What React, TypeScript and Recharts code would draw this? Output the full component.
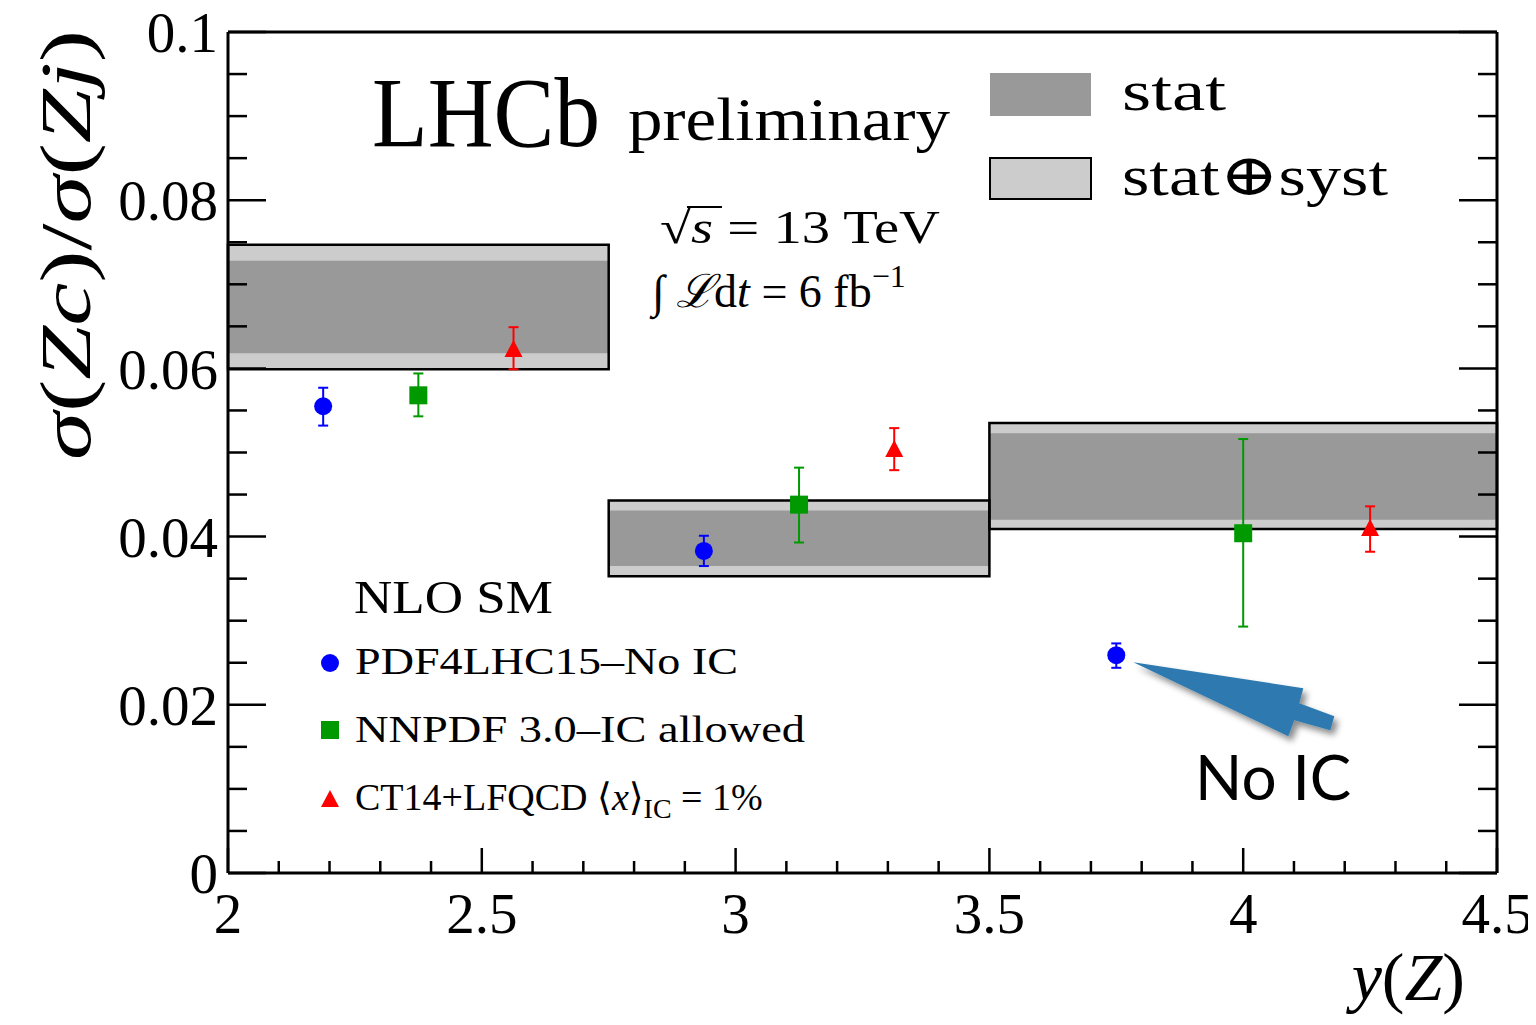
import { ComposedChart, XAxis, YAxis, Scatter, ErrorBar, ReferenceArea, ReferenceDot } from "recharts";

// measured bins (stat and stat+syst bands)
const binLo = [2.0, 2.75, 3.5];
const binHi = [2.75, 3.5, 4.5];
const systLo = [0.0599, 0.0353, 0.0409];
const systHi = [0.0747, 0.0443, 0.0535];
const statLo = [0.0618, 0.0365, 0.042];
const statHi = [0.0728, 0.0431, 0.0523];

// NLO SM predictions
const pdf4lhcX = [2.1875, 2.9375, 3.75];
const pdf4lhcY = [0.0555, 0.0383, 0.0259];
const pdf4lhcLo = [0.0532, 0.0365, 0.0244];
const pdf4lhcHi = [0.0577, 0.0401, 0.0273];

const nnpdfX = [2.375, 3.125, 4.0];
const nnpdfY = [0.0568, 0.0438, 0.0404];
const nnpdfLo = [0.0543, 0.0393, 0.0293];
const nnpdfHi = [0.0594, 0.0482, 0.0516];

const ct14X = [2.5625, 3.3125, 4.25];
const ct14Y = [0.0622, 0.0503, 0.0409];
const ct14Lo = [0.0599, 0.0479, 0.0382];
const ct14Hi = [0.0649, 0.0529, 0.0436];

const xMajor = [2, 2.5, 3, 3.5, 4, 4.5];
const xMinor = [2.1, 2.2, 2.3, 2.4, 2.6, 2.7, 2.8, 2.9, 3.1, 3.2, 3.3, 3.4, 3.6, 3.7, 3.8, 3.9, 4.1, 4.2, 4.3, 4.4];
const yMajor = [0, 0.02, 0.04, 0.06, 0.08, 0.1];
const yMinor = [0.005, 0.01, 0.015, 0.025, 0.03, 0.035, 0.045, 0.05, 0.055, 0.065, 0.07, 0.075, 0.085, 0.09, 0.095];

const xTicks = [...xMajor, ...xMinor];
const yTicks = [...yMajor, ...yMinor];

const BLUE = "#0000ff";
const GREEN = "#009900";
const RED = "#ff0000";
const SERIF = "Liberation Serif, DejaVu Serif, serif";
const FONT_SIZE = 57;

const toPoints = (xs: number[], ys: number[], lo: number[], hi: number[]) =>
	xs.map((x, i) => ({ x, y: ys[i], err: [ys[i] - lo[i], hi[i] - ys[i]] }));

const pdf4lhcData = toPoints(pdf4lhcX, pdf4lhcY, pdf4lhcLo, pdf4lhcHi);
const nnpdfData = toPoints(nnpdfX, nnpdfY, nnpdfLo, nnpdfHi);
const ct14Data = toPoints(ct14X, ct14Y, ct14Lo, ct14Hi);

const CircleMark = (p: any) => <circle cx={p.cx} cy={p.cy} r={9} fill={BLUE} />;
const SquareMark = (p: any) => <rect x={p.cx - 9} y={p.cy - 9} width={18} height={18} fill={GREEN} />;
const TriMark = (p: any) => (
	<polygon points={`${p.cx},${p.cy - 10} ${p.cx + 9},${p.cy + 7} ${p.cx - 9},${p.cy + 7}`} fill={RED} />
);

// arrow pointing at the no-IC prediction
const NoIcArrow = (p: any) => {
	const { cx, cy } = p;
	const pts = [
		[17, 7],
		[187, 33],
		[183, 48],
		[218, 61],
		[214, 75],
		[178, 65],
		[172, 81],
	]
		.map(([dx, dy]) => `${cx + dx},${cy + dy}`)
		.join(" ");
	return <polygon points={pts} fill="#2d7ab0" filter="url(#arrowShadow)" />;
};

// ROOT style ticks: drawn inwards, labels only on the bottom / left majors
const xTick = (side: "bottom" | "top") => (p: any) => {
	const v = p.payload.value;
	const major = xMajor.includes(v);
	const len = major ? 25 : 12;
	const dir = side === "bottom" ? -1 : 1;
	return (
		<g>
			<line x1={p.x} y1={p.y} x2={p.x} y2={p.y + dir * len} stroke="#000" strokeWidth={2.5} />
			{side === "bottom" && major && (
				<text x={p.x} y={p.y + 20} dy="0.71em" textAnchor="middle" fontSize={FONT_SIZE} fontFamily={SERIF} fill="#000">
					{String(v)}
				</text>
			)}
		</g>
	);
};

const yTick = (side: "left" | "right") => (p: any) => {
	const v = p.payload.value;
	const major = yMajor.includes(v);
	const len = major ? 38 : 19;
	const dir = side === "left" ? 1 : -1;
	return (
		<g>
			<line x1={p.x} y1={p.y} x2={p.x + dir * len} y2={p.y} stroke="#000" strokeWidth={2.5} />
			{side === "left" && major && (
				<text x={p.x - 10} y={p.y} dy="0.355em" textAnchor="end" fontSize={FONT_SIZE} fontFamily={SERIF} fill="#000">
					{String(v)}
				</text>
			)}
		</g>
	);
};

const frame = { stroke: "#000", strokeWidth: 3 };

export default function App() {
	return (
		<div style={{ position: "relative", width: 1536, height: 1024, margin: -8, background: "#fff" }}>
			<ComposedChart width={1536} height={1024} margin={{ top: 0, right: 0, bottom: 0, left: 0 }} style={{ overflow: "visible" }}>
				<XAxis xAxisId="b" orientation="bottom" type="number" dataKey="x" domain={[2, 4.5]} allowDataOverflow ticks={xTicks} interval={0} height={151} tickLine={false} tickSize={0} tickMargin={0} axisLine={frame} tick={xTick("bottom")} />
				<XAxis xAxisId="t" orientation="top" type="number" domain={[2, 4.5]} allowDataOverflow ticks={xTicks} interval={0} height={32} tickLine={false} tickSize={0} tickMargin={0} axisLine={frame} tick={xTick("top")} />
				<YAxis yAxisId="l" orientation="left" type="number" dataKey="y" domain={[0, 0.1]} allowDataOverflow ticks={yTicks} interval={0} width={228} tickLine={false} tickSize={0} tickMargin={0} axisLine={frame} tick={yTick("left")} />
				<YAxis yAxisId="r" orientation="right" type="number" domain={[0, 0.1]} allowDataOverflow ticks={yTicks} interval={0} width={39} tickLine={false} tickSize={0} tickMargin={0} axisLine={frame} tick={yTick("right")} />

				{binLo.map((lo, i) => (
					<ReferenceArea key={`syst-${i}`} xAxisId="b" yAxisId="l" x1={lo} x2={binHi[i]} y1={systLo[i]} y2={systHi[i]} fill="#cccccc" fillOpacity={1} stroke="none" />
				))}
				{binLo.map((lo, i) => (
					<ReferenceArea key={`stat-${i}`} xAxisId="b" yAxisId="l" x1={lo} x2={binHi[i]} y1={statLo[i]} y2={statHi[i]} fill="#999999" fillOpacity={1} stroke="none" />
				))}
				{binLo.map((lo, i) => (
					<ReferenceArea key={`box-${i}`} xAxisId="b" yAxisId="l" x1={lo} x2={binHi[i]} y1={systLo[i]} y2={systHi[i]} fill="none" fillOpacity={0} stroke="#000" strokeWidth={2.5} />
				))}

				<Scatter xAxisId="b" yAxisId="l" data={pdf4lhcData} shape={CircleMark} isAnimationActive={false}>
					<ErrorBar dataKey="err" direction="y" width={5} stroke={BLUE} strokeWidth={2} isAnimationActive={false} />
				</Scatter>
				<Scatter xAxisId="b" yAxisId="l" data={nnpdfData} shape={SquareMark} isAnimationActive={false}>
					<ErrorBar dataKey="err" direction="y" width={5} stroke={GREEN} strokeWidth={2} isAnimationActive={false} />
				</Scatter>
				<Scatter xAxisId="b" yAxisId="l" data={ct14Data} shape={TriMark} isAnimationActive={false}>
					<ErrorBar dataKey="err" direction="y" width={5} stroke={RED} strokeWidth={2} isAnimationActive={false} />
				</Scatter>

				<ReferenceDot xAxisId="b" yAxisId="l" x={pdf4lhcX[2]} y={pdf4lhcY[2]} r={0} shape={NoIcArrow} />
			</ComposedChart>

			<svg width={1536} height={1024} style={{ position: "absolute", left: 0, top: 0, pointerEvents: "none" }}>
				<defs>
					<filter id="arrowShadow" x="-20%" y="-50%" width="140%" height="200%">
						<feDropShadow dx="4" dy="5" stdDeviation="3" floodColor="#000" floodOpacity="0.45" />
					</filter>
				</defs>
				<g fontFamily={SERIF} fill="#000">
					{/* axis titles */}
					<text fontSize={72} textAnchor="middle" transform="translate(90,245) rotate(-90)" textLength={430} lengthAdjust="spacingAndGlyphs">
						<tspan fontStyle="italic">σ</tspan>
						<tspan>(</tspan>
						<tspan fontStyle="italic">Zc</tspan>
						<tspan>)/</tspan>
						<tspan fontStyle="italic">σ</tspan>
						<tspan>(</tspan>
						<tspan fontStyle="italic">Zj</tspan>
						<tspan>)</tspan>
					</text>
					<text x={1465} y={1000} fontSize={68} textAnchor="end">
						<tspan fontStyle="italic">y</tspan>
						<tspan>(</tspan>
						<tspan fontStyle="italic">Z</tspan>
						<tspan>)</tspan>
					</text>

					<text x={372} y={146} fontSize={100} textLength={228} lengthAdjust="spacingAndGlyphs">LHCb</text>
					<text x={628} y={140} fontSize={62} textLength={322} lengthAdjust="spacingAndGlyphs">preliminary</text>

					<rect x={990} y={73} width={101} height={43} fill="#999999" />
					<text x={1122} y={110} fontSize={58} textLength={104} lengthAdjust="spacingAndGlyphs">stat</text>
					<rect x={990} y={158} width={101} height={41} fill="#cccccc" stroke="#000" strokeWidth={2} />
					<text x={1122} y={195} fontSize={58} textLength={266} lengthAdjust="spacingAndGlyphs">stat⊕syst</text>

					<text x={660} y={243} fontSize={46} textLength={280} lengthAdjust="spacingAndGlyphs">
						<tspan>√</tspan>
						<tspan fontStyle="italic">s</tspan>
						<tspan> = 13 TeV</tspan>
					</text>
					<line x1={687} y1={207} x2={722} y2={207} stroke="#000" strokeWidth={2} />
					<text x={652} y={307} fontSize={46}>
						<tspan>∫ </tspan>
						<tspan fontStyle="italic">ℒ</tspan>
						<tspan>d</tspan>
						<tspan fontStyle="italic">t</tspan>
						<tspan> = 6 fb</tspan>
						<tspan fontSize={32} dy={-20}>−1</tspan>
					</text>

					<text x={354} y={613} fontSize={46} textLength={199} lengthAdjust="spacingAndGlyphs">NLO SM</text>
					<circle cx={330} cy={663} r={9} fill={BLUE} />
					<text x={355} y={674} fontSize={38} textLength={383} lengthAdjust="spacingAndGlyphs">PDF4LHC15–No IC</text>
					<rect x={321} y={721} width={18} height={18} fill={GREEN} />
					<text x={355} y={742} fontSize={38} textLength={450} lengthAdjust="spacingAndGlyphs">NNPDF 3.0–IC allowed</text>
					<polygon points="330,790 339,807 321,807" fill={RED} />
					<text x={355} y={810} fontSize={38}>
						<tspan>CT14+LFQCD ⟨</tspan>
						<tspan fontStyle="italic">x</tspan>
						<tspan>⟩</tspan>
						<tspan fontSize={28} dy={8}>IC</tspan>
						<tspan dy={-8}> = 1%</tspan>
					</text>
				</g>
				<text x={1195} y={800} fontSize={62} fontFamily="Lato, Open Sans, sans-serif" fill="#000">No IC</text>
			</svg>
		</div>
	);
}
